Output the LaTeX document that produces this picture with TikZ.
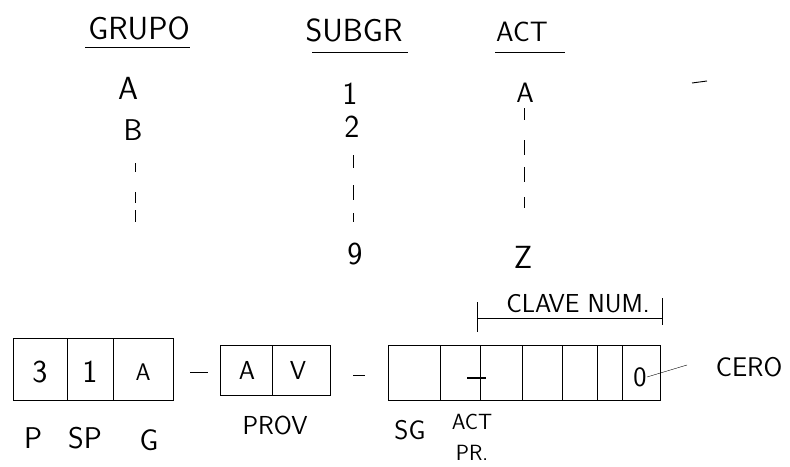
\documentclass[tikz,border=0pt]{standalone}
\usepackage{tikz}

\begin{document}
\begin{tikzpicture}[x=1pt, y=-1pt, line width=.9pt,
  hand/.style={font=\sffamily\fontsize{#1}{#1}\selectfont, inner sep=0pt},
  hand/.default=28]
 \useasboundingbox (0,0) rectangle (790,466);
 % headings
 \node[hand=32] (grupo) at (139,28) {GRUPO};
 \draw (85,47) -- (190,47);
 \node[hand=32] (subgr) at (354,30) {SUBGR};
 \draw (312,52) -- (408,52);
 \node[hand=28] (act) at (522,32) {ACT};
 \draw (495,52) -- (565,52);
 \draw (692,83) -- (707,81);
 % column grupo
 \node[hand=32] (ga) at (128,88) {A};
 \node[hand=30] (gb) at (133,130) {B};
 \foreach \a/\b in {163/172, 192/203, 210/222}
   \draw (135,\a) -- (135,\b);
 % column subgr
 \node[hand=32] (s1) at (350,94) {1};
 \node[hand=32] (s2) at (352,127) {2};
 \foreach \a/\b in {155/168, 185/200, 213/222}
   \draw (353,\a) -- (353,\b);
 \node[hand=32] (s9) at (355,254) {9};
 % column act
 \node[hand=28] (aa) at (525,93) {A};
 \foreach \a/\b in {108/120, 140/155, 167/182, 197/208}
   \draw (524,\a) -- (524,\b);
 \node[hand=32] (az) at (523,257) {Z};
 % clave num
 \node[hand=26] (clave) at (578,304) {CLAVE NUM.};
 \draw (477,302) -- (477,332);
 \draw (477,318) -- (662,318);
 \draw (662,298) -- (662,325);
 % first box
 \draw (13,338) rectangle (173,400);
 \foreach \x in {67,113} \draw (\x,338) -- (\x,400);
 \node[hand=32] (b3) at (40,372) {3};
 \node[hand=32] (b1) at (90,372) {1};
 \node[hand=24] (bA) at (143,372) {A};
 \draw (190,372) -- (208,372);
 % prov box
 \draw (220,345) rectangle (330,395);
 \draw (272,345) -- (272,395);
 \node[hand=26] (pA) at (247,370) {A};
 \node[hand=26] (pV) at (298,370) {V};
 \draw (353,375) -- (365,375);
 % number box
 \draw (388,345) rectangle (660,400);
 \foreach \x in {440,480,522,562,597,622} \draw (\x,345) -- (\x,400);
 \draw[line width=2pt] (467,378) -- (486,378);
 \node[hand=28] (zero) at (640,377) {0};
 \node[hand=27] (cero) at (749,367) {CERO};
 \coordinate (ceroend) at (687,365);
 \draw[thin] (zero.east) -- (ceroend);
 % labels
 \node[hand=30] (lp) at (33,438) {P};
 \node[hand=30] (lsp) at (85,438) {SP};
 \node[hand=30] (lg) at (149,440) {G};
 \node[hand=26] (lprov) at (275,425) {PROV};
 \node[hand=27] (lsg) at (410,430) {SG};
 \node[hand=22] (lact) at (472,422) {ACT};
 \node[hand=22] (lpr) at (472,453) {PR.};
\end{tikzpicture}
\end{document}
